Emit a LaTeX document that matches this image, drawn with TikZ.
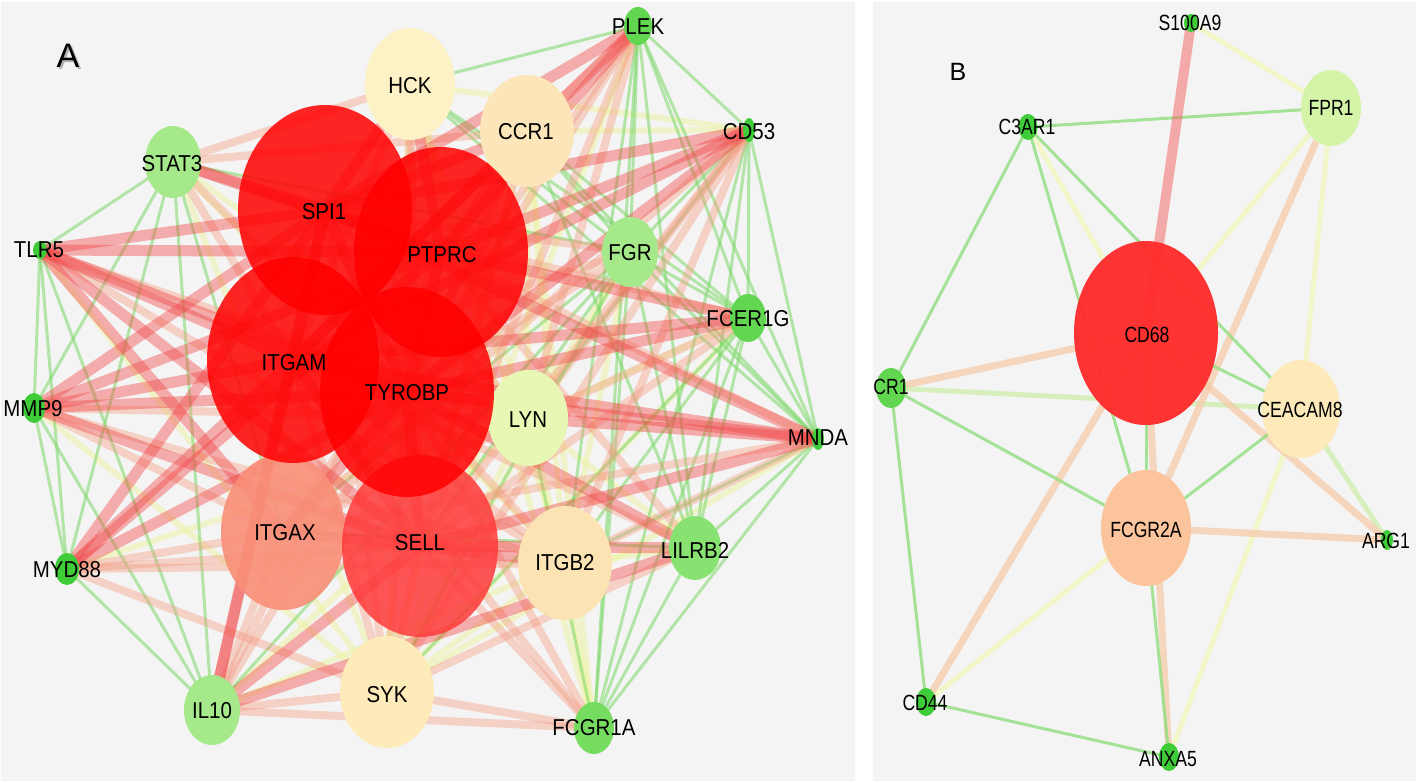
\documentclass[tikz,border=0pt]{standalone}
\usepackage{fontspec}
\setmainfont{Liberation Sans}
\newfontfamily\geneA{Liberation Sans}[FakeStretch=0.89]
\newfontfamily\geneB{Liberation Sans}[FakeStretch=0.8]
\usetikzlibrary{shapes.geometric, positioning}
\definecolor{panelbg}{HTML}{F4F4F4}
\definecolor{hubred}{HTML}{FF0000}
\definecolor{sellred}{HTML}{FF3A3A}
\definecolor{itgaxc}{HTML}{F98F78}
\definecolor{hckc}{HTML}{FDF2C6}
\definecolor{ccr1c}{HTML}{FCE6B9}
\definecolor{sykc}{HTML}{FDEBB9}
\definecolor{itgb2c}{HTML}{FCE3B3}
\definecolor{lync}{HTML}{E8F8B4}
\definecolor{lgreen}{HTML}{A6E98B}
\definecolor{mgreen}{HTML}{88E272}
\definecolor{fgreen}{HTML}{76DC5F}
\definecolor{dgreen}{HTML}{62D651}
\definecolor{bgreen}{HTML}{3FCC39}
\definecolor{cd68c}{HTML}{FF2A2A}
\definecolor{fcgr2ac}{HTML}{FCC49C}
\definecolor{ceac}{HTML}{FDE9BA}
\definecolor{fprc}{HTML}{D4F4A8}
\definecolor{edgered}{HTML}{F24848}
\definecolor{edgewarm}{HTML}{F59A80}
\definecolor{edgepale}{HTML}{EEF3A0}
\definecolor{edgecool}{HTML}{7CD86A}
\definecolor{edgepeach}{HTML}{F6CBAA}
\definecolor{edgelime}{HTML}{D2EFB4}
\pgfdeclarelayer{back}
\pgfdeclarelayer{edges}
\pgfsetlayers{back,edges,main}

\begin{document}
\begin{tikzpicture}[
    x=1pt, y=-1pt,
    gene/.style={ellipse, inner sep=0pt, draw=none},
    hub/.style={gene, fill=hubred, fill opacity=0.85},
    labA/.style={font=\geneA\fontsize{23}{23}\selectfont, inner sep=0pt},
    labB/.style={font=\geneB\fontsize{22}{22}\selectfont, inner sep=0pt},
    tag/.style={font=\fontsize{34}{34}\selectfont, inner sep=0pt},
    hot/.style={draw=edgered, line width=11pt, draw opacity=0.42},
    warm/.style={draw=edgewarm, line width=8pt, draw opacity=0.4},
    pale/.style={draw=edgepale, line width=6pt, draw opacity=0.5},
    cool/.style={draw=edgecool, line width=3pt, draw opacity=0.55},
    bhot/.style={draw=edgered!80, line width=10pt, draw opacity=0.55},
    bpeach/.style={draw=edgepeach, line width=7pt, draw opacity=0.75},
    bpale/.style={draw=edgepale!70, line width=5pt, draw opacity=0.8},
    blime/.style={draw=edgelime, line width=5pt, draw opacity=0.85},
    bgreen/.style={draw=edgecool!85, line width=3pt, draw opacity=0.8}
]
    \begin{pgfonlayer}{back}
        \fill[white] (0,0) rectangle (1416,783);
        \fill[panelbg] (1,2) rectangle (855,781);
        \fill[panelbg] (873,2) rectangle (1416,781);
    \end{pgfonlayer}
    \useasboundingbox (0,0) rectangle (1416,783);

    \node[tag, text=black!30] (tagA-s) at (70,58) {A};
    \node[tag] (tagA) at (68,56) {A};
    \node[tag, font=\fontsize{25}{25}\selectfont] (tagB) at (958,72) {B};

    \node[gene, fill=lync, minimum width=80pt, minimum height=96pt] (lyn) at (528,418) {};
    \node[gene, fill=hckc, minimum width=90pt, minimum height=112pt] (hck) at (410,84) {};
    \node[gene, fill=ccr1c, minimum width=94pt, minimum height=112pt] (ccr1) at (527,131) {};
    \node[gene, fill=sykc, minimum width=94pt, minimum height=112pt] (syk) at (387,692) {};
    \node[gene, fill=itgb2c, minimum width=94pt, minimum height=114pt] (itgb2) at (565,563) {};
    \node[gene, fill=itgaxc, fill opacity=0.9, minimum width=124pt, minimum height=156pt] (itgax) at (283,532) {};
    \node[gene, fill=sellred, fill opacity=0.85, minimum width=156pt, minimum height=182pt] (sell) at (420,546) {};
    \node[hub, minimum width=174pt, minimum height=210pt] (spi) at (325,210) {};
    \node[hub, minimum width=174pt, minimum height=210pt] (ptp) at (441,252) {};
    \node[hub, minimum width=172pt, minimum height=206pt] (itgam) at (293,360) {};
    \node[hub, minimum width=174pt, minimum height=210pt] (tyr) at (407,392) {};
    \node[gene, fill=lgreen, minimum width=56pt, minimum height=70pt] (fgr) at (630,252) {};
    \node[gene, fill=lgreen, minimum width=56pt, minimum height=72pt] (stat3) at (173,162) {};
    \node[gene, fill=lgreen, minimum width=56pt, minimum height=70pt] (il10) at (212,710) {};
    \node[gene, fill=mgreen, minimum width=52pt, minimum height=64pt] (lilrb2) at (695,548) {};
    \node[gene, fill=fgreen, minimum width=40pt, minimum height=52pt] (fcgr1a) at (594,728) {};
    \node[gene, fill=dgreen, minimum width=36pt, minimum height=48pt] (fcer1g) at (748,318) {};
    \node[gene, fill=dgreen, minimum width=28pt, minimum height=38pt] (plek) at (638,26) {};
    \node[gene, fill=bgreen, minimum width=12pt, minimum height=24pt] (cd53) at (749,130) {};
    \node[gene, fill=bgreen, minimum width=12pt, minimum height=22pt] (mnda) at (818,439) {};
    \node[gene, fill=bgreen, minimum width=14pt, minimum height=18pt] (tlr5) at (40,250) {};
    \node[gene, fill=bgreen, minimum width=22pt, minimum height=30pt] (mmp9) at (34,408) {};
    \node[gene, fill=bgreen, minimum width=24pt, minimum height=32pt] (myd88) at (67,569) {};

    \node[labA] (spi-t) at (324,212) {SPI1};
    \node[labA] (ptp-t) at (442,255) {PTPRC};
    \node[labA] (itgam-t) at (294,363) {ITGAM};
    \node[labA] (tyr-t) at (407,393) {TYROBP};
    \node[labA] (sell-t) at (420,543) {SELL};
    \node[labA] (itgax-t) at (285,533) {ITGAX};
    \node[labA] (hck-t) at (410,86) {HCK};
    \node[labA] (ccr1-t) at (526,132) {CCR1};
    \node[labA] (syk-t) at (387,695) {SYK};
    \node[labA] (itgb2-t) at (565,563) {ITGB2};
    \node[labA] (lyn-t) at (528,420) {LYN};
    \node[labA] (fgr-t) at (630,253) {FGR};
    \node[labA] (stat3-t) at (172,164) {STAT3};
    \node[labA] (il10-t) at (212,711) {IL10};
    \node[labA] (lilrb2-t) at (695,550) {LILRB2};
    \node[labA] (fcgr1a-t) at (594,728) {FCGR1A};
    \node[labA] (fcer1g-t) at (748,319) {FCER1G};
    \node[labA] (plek-t) at (638,27) {PLEK};
    \node[labA] (cd53-t) at (749,132) {CD53};
    \node[labA] (mnda-t) at (818,438) {MNDA};
    \node[labA] (tlr5-t) at (39,250) {TLR5};
    \node[labA] (mmp9-t) at (33,409) {MMP9};
    \node[labA] (myd88-t) at (67,570) {MYD88};

    \node[gene, fill=bgreen, minimum width=14pt, minimum height=18pt] (s100) at (1191,23) {};
    \node[gene, fill=fprc, minimum width=60pt, minimum height=76pt] (fpr1) at (1331,108) {};
    \node[gene, fill=bgreen, minimum width=19pt, minimum height=26pt] (c3ar1) at (1028,127) {};
    \node[gene, fill=cd68c, fill opacity=0.95, minimum width=144pt, minimum height=184pt] (cd68) at (1146,333) {};
    \node[gene, fill=dgreen, minimum width=30pt, minimum height=40pt] (cr1) at (891,388) {};
    \node[gene, fill=ceac, minimum width=78pt, minimum height=98pt] (ceacam) at (1301,409) {};
    \node[gene, fill=fcgr2ac, minimum width=90pt, minimum height=116pt] (fcgr2a) at (1146,528) {};
    \node[gene, fill=bgreen, minimum width=12pt, minimum height=20pt] (arg1) at (1387,540) {};
    \node[gene, fill=bgreen, minimum width=20pt, minimum height=28pt] (cd44) at (926,702) {};
    \node[gene, fill=bgreen, minimum width=20pt, minimum height=28pt] (anxa5) at (1169,757) {};

    \node[labB] (s100-t) at (1190,23) {S100A9};
    \node[labB] (fpr1-t) at (1331,108) {FPR1};
    \node[labB] (c3ar1-t) at (1027,127) {C3AR1};
    \node[labB] (cd68-t) at (1147,335) {CD68};
    \node[labB] (cr1-t) at (891,387) {CR1};
    \node[labB] (ceacam-t) at (1300,410) {CEACAM8};
    \node[labB] (fcgr2a-t) at (1146,530) {FCGR2A};
    \node[labB] (arg1-t) at (1386,541) {ARG1};
    \node[labB] (cd44-t) at (925,703) {CD44};
    \node[labB] (anxa5-t) at (1168,759) {ANXA5};

    \begin{pgfonlayer}{edges}
        \foreach \a/\b in {stat3/lyn, stat3/itgb2, stat3/syk, tlr5/syk, mmp9/syk, myd88/lyn, il10/itgb2, il10/lyn,
            hck/lyn, hck/syk, hck/itgb2, ccr1/lyn, ccr1/syk, ccr1/itgb2, fgr/syk, fgr/itgb2, fgr/lyn,
            lyn/syk, lyn/itgb2, itgb2/syk, plek/syk, cd53/ccr1, fcer1g/syk, fcer1g/lyn, mnda/syk,
            lilrb2/lyn, lilrb2/itgb2, fcgr1a/itgb2, fcgr1a/lyn, fcgr1a/ccr1, fcgr1a/hck, cd53/hck}
            \draw[pale] (\a.center) -- (\b.center);
        \foreach \a/\b in {tlr5/stat3, tlr5/mmp9, tlr5/myd88, tlr5/il10, mmp9/myd88, mmp9/stat3, mmp9/il10,
            myd88/il10, myd88/stat3, stat3/il10, stat3/itgax, stat3/fgr,
            plek/cd53, plek/fgr, plek/fcer1g, plek/mnda, plek/lilrb2, plek/fcgr1a, plek/hck, plek/itgb2,
            cd53/fcer1g, cd53/mnda, cd53/lilrb2, cd53/fcgr1a, cd53/fgr,
            fcer1g/mnda, fcer1g/lilrb2, fcer1g/fcgr1a, fcer1g/fgr, mnda/lilrb2, mnda/fcgr1a, mnda/fgr,
            lilrb2/fcgr1a, lilrb2/fgr, fgr/fcgr1a, fgr/hck, fgr/ccr1, hck/fcer1g, hck/mnda,
            ccr1/fcer1g, ccr1/mnda, ccr1/lilrb2, lyn/fcgr1a, syk/fgr, il10/fgr, itgax/fgr,
            itgax/lilrb2, sell/fgr, syk/fcer1g, itgb2/fcer1g, itgb2/mnda, lyn/cd53}
            \draw[cool] (\a.center) -- (\b.center);
        \foreach \a/\b in {stat3/hck, stat3/ccr1, stat3/itgam, stat3/tyr,
            myd88/itgax, myd88/sell, myd88/syk, myd88/itgb2,
            il10/itgax, il10/tyr, il10/fcgr1a, il10/ptp, il10/syk,
            mmp9/itgax, mmp9/lyn, mmp9/itgb2, tlr5/lyn, tlr5/itgb2,
            plek/tyr, plek/sell, plek/itgax, plek/lyn, plek/ccr1,
            cd53/sell, cd53/itgax, cd53/lyn, cd53/itgb2, cd53/syk,
            fcer1g/sell, fcer1g/itgax, fcer1g/spi, mnda/ptp, mnda/itgax, mnda/itgb2,
            lilrb2/itgam, lilrb2/ptp, lilrb2/syk, fcgr1a/sell, fcgr1a/tyr, fcgr1a/itgam, fcgr1a/syk,
            hck/itgam, hck/tyr, hck/sell, ccr1/tyr, ccr1/ptp, ccr1/sell,
            syk/sell, syk/tyr, syk/itgam, syk/spi, fgr/spi, fgr/itgam, fgr/tyr,
            itgb2/tyr, itgb2/itgam, lyn/tyr, lyn/spi}
            \draw[warm] (\a.center) -- (\b.center);
        \foreach \a/\b in {tlr5/spi, tlr5/ptp, tlr5/itgam, tlr5/tyr, tlr5/sell, tlr5/itgax,
            mmp9/itgam, mmp9/tyr, mmp9/sell, mmp9/ptp, mmp9/spi,
            myd88/spi, myd88/itgam, myd88/tyr, myd88/ptp,
            il10/itgam, il10/sell, il10/spi, il10/lilrb2,
            mnda/tyr, mnda/spi, mnda/itgam, mnda/sell, mnda/lyn, lilrb2/sell, lilrb2/tyr,
            cd53/spi, cd53/ptp, cd53/itgam, cd53/tyr, plek/spi, plek/ptp, plek/itgam,
            fcer1g/itgam, fcer1g/tyr, fcer1g/ptp, sell/itgb2,
            spi/ptp, spi/itgam, spi/tyr, ptp/tyr, itgam/tyr, itgam/sell, tyr/sell, itgax/tyr, itgax/sell,
            stat3/spi, stat3/ptp, hck/spi, hck/ptp, ccr1/spi, ccr1/itgam}
            \draw[hot] (\a.center) -- (\b.center);

        \foreach \a/\b in {s100/fpr1, c3ar1/cd68, fpr1/cd68, fpr1/ceacam, ceacam/anxa5, fcgr2a/cd44}
            \draw[bpale] (\a.center) -- (\b.center);
        \foreach \a/\b in {cr1/ceacam, ceacam/arg1}
            \draw[blime] (\a.center) -- (\b.center);
        \foreach \a/\b in {cr1/cd68, cd68/cd44, cd68/arg1, fpr1/fcgr2a, cd68/anxa5, fcgr2a/arg1}
            \draw[bpeach] (\a.center) -- (\b.center);
        \foreach \a/\b in {c3ar1/fpr1, c3ar1/cr1, c3ar1/fcgr2a, c3ar1/ceacam, cr1/fcgr2a, cr1/cd44,
            cd44/anxa5, cd68/ceacam, cd68/fcgr2a, ceacam/fcgr2a, fcgr2a/anxa5}
            \draw[bgreen] (\a.center) -- (\b.center);
        \draw[bhot] (s100.center) -- (cd68.center);
    \end{pgfonlayer}
\end{tikzpicture}
\end{document}
